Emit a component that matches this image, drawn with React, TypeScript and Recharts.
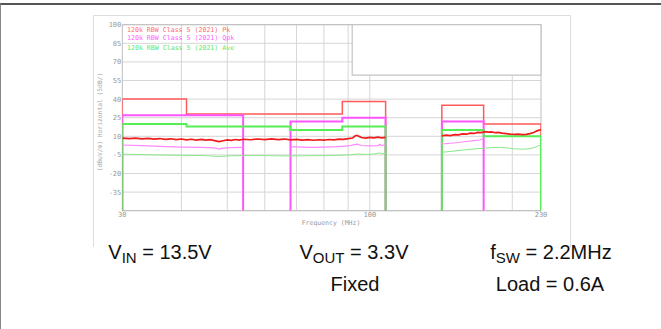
import { LineChart, Line, XAxis, YAxis, CartesianGrid, ReferenceArea } from 'recharts'

// limit lines (step functions, dropped to the floor at band edges)
const pkLimitF = [30, 30, 41, 87.5, 108, 125, 142, 142, 174, 230]
const pkLimitV = [-50, 40, 28, 38, -50, null, -50, 35, 20, -50]
const qpkLimitF = [30, 30, 54, 60, 68, 68, 87.5, 108, 125, 142, 142, 174]
const qpkLimitV = [-50, 27, -50, null, -50, 22, 25, -50, null, -50, 22, -50]
const avLimitF = [30, 30, 41, 68, 87.5, 108, 125, 142, 142, 174, 230]
const avLimitV = [-50, 20, 18, 15, 18, -50, null, -50, 15, 10, -50]

// measured peak
const pkF = [30, 31, 32, 33, 34, 35, 36, 37, 38, 39, 40, 41, 42, 43, 44, 45, 46, 47, 48, 49, 50, 51, 52, 53, 54,
  56, 58, 60, 62, 64, 66, 68, 70, 72, 74, 76, 78, 80, 82, 84, 86, 88, 90, 92, 93, 94, 95, 96, 98, 100, 102, 104, 106, 108,
  125,
  142, 145, 148, 151, 154, 157, 160, 163, 166, 169, 172, 175, 178, 181, 184, 187, 190, 194, 198, 202, 206, 210, 214, 218, 222, 225, 228, 230]
const pkV = [8.6, 8.1, 8.5, 7.9, 8.3, 7.8, 8.2, 7.6, 8.0, 7.4, 7.8, 7.2, 7.6, 7.0, 7.5, 6.9, 7.3, 6.5, 5.7, 6.4, 7.1, 6.8, 7.4, 7.0, 7.6,
  7.2, 7.8, 7.3, 7.9, 7.4, 7.8, 7.1, 7.5, 6.9, 7.3, 6.8, 7.2, 6.9, 7.4, 7.1, 7.7, 7.5, 8.1, 8.6, 10.2, 10.8, 9.9, 9.0, 8.6, 9.2, 8.7, 9.3, 8.8, 9.2,
  null,
  10.3, 10.9, 10.6, 11.4, 11.1, 12.0, 11.7, 12.6, 12.3, 13.2, 13.0, 13.8, 13.3, 13.6, 12.9, 13.1, 12.5, 12.2, 11.8, 11.5, 11.7, 11.3, 11.6, 12.2, 13.1, 14.2, 15.0, 15.3]

// measured quasi-peak
const qpkF = [30, 33, 36, 40, 44, 47, 48, 49, 51, 54, 60, 68, 72, 76, 80, 85, 90, 93, 94, 96, 100, 104, 105, 106, 108, 125, 142, 148, 154, 160, 166, 170, 174]
const qpkV = [3.0, 2.4, 1.9, 1.3, 1.1, 0.6, -0.3, 0.4, 0.9, 1.0, null, 1.6, 1.3, 1.1, 1.3, 1.6, 2.2, 3.3, 3.6, 2.6, 2.2, 2.5, 3.4, 2.7, 3.0, null, 3.8, 4.4, 5.0, 5.8, 6.5, 7.0, 7.6]

// measured average
const avF = [30, 34, 38, 42, 45, 48, 51, 55, 60, 66, 72, 80, 86, 90, 94, 98, 102, 105, 106, 108, 125, 142, 150, 158, 166, 174, 182, 188, 195, 202, 210, 216, 222, 226, 230]
const avV = [-4.4, -4.9, -5.2, -5.4, -5.6, -6.3, -5.7, -5.5, -5.6, -5.8, -5.7, -5.6, -5.3, -5.0, -4.3, -4.6, -4.3, -3.4, -4.0, -3.7, null, -2.9, -2.0, -1.0, -0.2, 0.4, 0.9, 1.1, 0.6, -0.1, -0.4, -0.2, 0.8, 2.0, 3.0]

const yTicks = [-50, -35, -20, -5, 10, 25, 40, 55, 70, 85, 100]
const xTicks = [30, 100, 230]
const xGrid = [40, 50, 60, 70, 80, 90, 100, 200]

const legendItems = [
  { text: '120k RBW Class 5 (2021) Pk', color: '#ff6b6b' },
  { text: '120k RBW Class 5 (2021) Qpk', color: '#ff5cff' },
  { text: '120k RBW Class 5 (2021) Ave', color: '#5ee85e' },
]

const zip = (f: number[], v: (number | null)[]) => f.map((x, i) => ({ f: x, v: v[i] }))

const mono = 'DejaVu Sans Mono, monospace'
const sans = 'Liberation Sans, Arial, sans-serif'

function YTick(props: any) {
  const { x, y, payload } = props
  if (payload.value === -50) return null
  return (
    <text x={x} y={y} dy={2.5} textAnchor="end" fontSize={7} fill="#999" fontFamily={mono}>
      {payload.value}
    </text>
  )
}

export default function App() {
  return (
    <div style={{ position: 'absolute', left: 0, top: 0, width: 661, height: 329, background: '#fff', overflow: 'hidden' }}>
      <div style={{ position: 'absolute', left: 0, top: 3, width: 661, height: 326, borderTop: '2px solid #555', borderLeft: '1px solid #888', boxSizing: 'border-box' }} />
      <div style={{ position: 'absolute', left: 93, top: 15, width: 478, height: 232, border: '1px solid #ddd', borderBottom: 'none', boxSizing: 'border-box' }} />
      <div style={{ position: 'absolute', left: 0, top: 0 }}>
        <LineChart width={661} height={329} margin={{ top: 24.7, right: 120, bottom: 98.3, left: 82.3 }}>
          <CartesianGrid stroke="#d6d6d6" verticalValues={xGrid} horizontalValues={yTicks} />
          <XAxis dataKey="f" type="number" scale="log" domain={[30, 230]} ticks={xTicks} allowDataOverflow interval={0}
            height={20} axisLine={false} tickLine={false} tickSize={0} tickMargin={1}
            tick={{ fontSize: 7, fill: '#999', fontFamily: mono }} />
          <YAxis type="number" domain={[-50, 100]} ticks={yTicks} allowDataOverflow width={40} interval={0}
            axisLine={false} tickLine={false} tickSize={0} tickMargin={1} tick={<YTick />} />
          <ReferenceArea x1={30} x2={230} y1={-50} y2={100} fill="none" stroke="#bdbdbd" ifOverflow="visible" />
          <ReferenceArea x1={91.8} x2={230} y1={59.4} y2={100} fill="#fff" fillOpacity={1} stroke="#c4c4c4" strokeWidth={1.2} ifOverflow="visible" />
          <Line data={zip(pkLimitF, pkLimitV)} dataKey="v" type="stepAfter" stroke="#ff5a5a" strokeWidth={1.5} dot={false} isAnimationActive={false} />
          <Line data={zip(qpkLimitF, qpkLimitV)} dataKey="v" type="stepAfter" stroke="#ff55ff" strokeWidth={2} dot={false} isAnimationActive={false} />
          <Line data={zip(avLimitF, avLimitV)} dataKey="v" type="stepAfter" stroke="#55ee55" strokeWidth={2} dot={false} isAnimationActive={false} />
          <Line data={zip(pkF, pkV)} dataKey="v" type="linear" stroke="#ee1c1c" strokeWidth={1.7} dot={false} isAnimationActive={false} />
          <Line data={zip(qpkF, qpkV)} dataKey="v" type="linear" stroke="#ff88ff" strokeWidth={1.2} dot={false} isAnimationActive={false} />
          <Line data={zip(avF, avV)} dataKey="v" type="linear" stroke="#88e888" strokeWidth={1} dot={false} isAnimationActive={false} />
        </LineChart>
      </div>
      <svg width={661} height={329} style={{ position: 'absolute', left: 0, top: 0, pointerEvents: 'none' }}>
        {legendItems.map((d, i) => (
          <text key={d.text} x={127} y={31.5 + i * 8 + (i === 2 ? 2 : 0)} fontSize={6.6} fill={d.color} fontFamily={mono}>{d.text}</text>
        ))}
        <text x={331} y={224.5} textAnchor="middle" fontSize={6.5} fill="#999" fontFamily={mono}>Frequency (MHz)</text>
        <text transform="translate(101.5,122) rotate(-90)" textAnchor="middle" fontSize={6.3} fill="#aaa" fontFamily={mono}>(dBuV/m) Horizontal (5dB/)</text>
        <g fontFamily={sans} fontSize={20} fill="#111">
          <text x={160} y={259} textAnchor="middle">V<tspan fontSize={15} dy={3.5}>IN</tspan><tspan dy={-3.5}> = 13.5V</tspan></text>
          <text x={354} y={259} textAnchor="middle">V<tspan fontSize={15} dy={3.5}>OUT</tspan><tspan dy={-3.5}> = 3.3V</tspan></text>
          <text x={355} y={291} textAnchor="middle">Fixed</text>
          <text x={551} y={259} textAnchor="middle">f<tspan fontSize={15} dy={3.5}>SW</tspan><tspan dy={-3.5}> = 2.2MHz</tspan></text>
          <text x={550} y={291} textAnchor="middle">Load = 0.6A</text>
        </g>
      </svg>
    </div>
  )
}
